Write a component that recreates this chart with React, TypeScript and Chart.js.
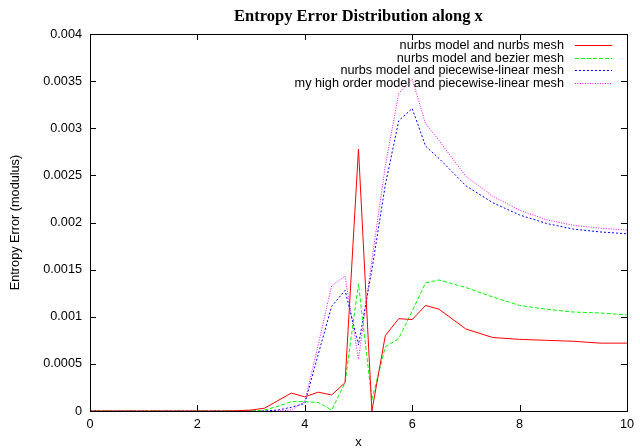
import { useEffect, useRef } from "react";
import { Chart, registerables } from "chart.js";

Chart.register(...registerables);

const chartTitle = "Entropy Error Distribution along x";
const xAxisTitle = "x";
const yAxisTitle = "Entropy Error (modulus)";

const xValues = [0, 0.5, 1, 1.5, 2, 2.5, 2.75, 3, 3.25, 3.5, 3.75, 4, 4.25, 4.5, 4.75, 5, 5.25, 5.5, 5.75, 6, 6.25, 6.5, 7, 7.5, 8, 8.5, 9, 9.5, 10];

const nurbsNurbs = [0, 0, 0, 0, 0, 0, 0.000003, 0.00001, 0.00003, 0.00011, 0.00019, 0.00015, 0.0002, 0.00017, 0.0003, 0.00278, 0, 0.0008, 0.00098, 0.00097, 0.00112, 0.00108, 0.00087, 0.00078, 0.00076, 0.00075, 0.00074, 0.00072, 0.00072];
const nurbsBezier = [0, 0, 0, 0, 0, 0, 0, 0, 0.00001, 0.00005, 0.0001, 0.0001, 0.00009, 0.00001, 0.0003, 0.00135, 0.00012, 0.00068, 0.00077, 0.00106, 0.00136, 0.00139, 0.00131, 0.00121, 0.00112, 0.00108, 0.00105, 0.00104, 0.00102];
const nurbsLinear = [0, 0, 0, 0, 0, 0, 0, 0, 0, 0.00001, 0.00004, 0.00008, 0.0006, 0.00111, 0.00128, 0.0007, 0.0015, 0.0024, 0.00308, 0.00321, 0.00281, 0.00268, 0.00239, 0.00221, 0.00208, 0.00199, 0.00193, 0.0019, 0.00188];
const highOrderLinear = [0, 0, 0, 0, 0, 0, 0, 0, 0, 0, 0.00001, 0.0001, 0.0007, 0.00133, 0.00143, 0.00055, 0.0016, 0.0026, 0.00337, 0.00352, 0.00305, 0.00287, 0.00249, 0.00228, 0.00213, 0.00203, 0.00197, 0.00194, 0.00192];

const seriesLabels = [
  "nurbs model and nurbs mesh",
  "nurbs model and bezier mesh",
  "nurbs model and piecewise-linear mesh",
  "my high order model and piecewise-linear mesh",
];

const xTicks = [0, 2, 4, 6, 8, 10];
const yTicks = [0, 0.0005, 0.001, 0.0015, 0.002, 0.0025, 0.003, 0.0035, 0.004];

const FONT = '"Liberation Sans", Arial, sans-serif';
const FS = 12.7;

const gnuplotPlugin = {
  id: "gnuplotFrame",
  afterDraw(chart: any) {
    const { ctx, chartArea } = chart;
    const { left, right, top, bottom } = chartArea;
    const xs = chart.scales.x;
    const ys = chart.scales.y;
    ctx.save();
    ctx.strokeStyle = "#000";
    ctx.lineWidth = 1;
    ctx.setLineDash([]);
    ctx.beginPath();
    for (const t of xTicks) {
      const px = Math.round(xs.getPixelForValue(t)) + 0.5;
      ctx.moveTo(px, bottom);
      ctx.lineTo(px, bottom - 6);
      ctx.moveTo(px, top);
      ctx.lineTo(px, top + 6);
    }
    for (const t of yTicks) {
      const py = Math.round(ys.getPixelForValue(t)) + 0.5;
      ctx.moveTo(left, py);
      ctx.lineTo(left + 6, py);
      ctx.moveTo(right, py);
      ctx.lineTo(right - 6, py);
    }
    ctx.stroke();
    ctx.strokeRect(Math.round(left) + 0.5, Math.round(top) + 0.5, Math.round(right - left), Math.round(bottom - top));

    // title
    ctx.fillStyle = "#000";
    ctx.font = 'bold 16.5px "Liberation Serif", "Times New Roman", serif';
    ctx.textAlign = "center";
    ctx.textBaseline = "alphabetic";
    ctx.fillText(chartTitle, (left + right) / 2, 21);

    // legend
    ctx.font = FS + "px " + FONT;
    ctx.textAlign = "right";
    ctx.textBaseline = "middle";
    chart.data.datasets.forEach((ds: any, i: number) => {
      const yy = Math.round(top + 11 + i * 12.7) + 0.5;
      ctx.fillStyle = "#000";
      ctx.fillText(ds.label, right - 63, yy);
      ctx.strokeStyle = ds.borderColor;
      ctx.lineWidth = 1;
      ctx.setLineDash(ds.borderDash || []);
      ctx.beginPath();
      ctx.moveTo(right - 52, yy);
      ctx.lineTo(right - 15, yy);
      ctx.stroke();
    });
    ctx.restore();
  },
};

export default function App() {
  const canvasRef = useRef<HTMLCanvasElement | null>(null);

  useEffect(() => {
    if (!canvasRef.current) return;
    const mk = (label: string, data: number[], color: string, dash: number[]) => ({
      label,
      data: xValues.map((x, i) => ({ x, y: data[i] })),
      borderColor: color,
      backgroundColor: color,
      borderWidth: 1,
      borderDash: dash,
      pointRadius: 0,
      tension: 0,
      fill: false,
    });
    const chart = new Chart(canvasRef.current, {
      type: "line",
      data: {
        datasets: [
          mk(seriesLabels[0], nurbsNurbs, "#ff0000", []),
          mk(seriesLabels[1], nurbsBezier, "#00ff00", [4, 2]),
          mk(seriesLabels[2], nurbsLinear, "#0000ff", [2, 2]),
          mk(seriesLabels[3], highOrderLinear, "#ff00ff", [1, 1.5]),
        ],
      },
      options: {
        animation: false,
        responsive: false,
        devicePixelRatio: 1,
        layout: { padding: { top: 34, right: 10, left: 0, bottom: 0 } },
        plugins: {
          legend: { display: false },
          title: { display: false },
          tooltip: { enabled: false },
        },
        scales: {
          x: {
            type: "linear",
            min: 0,
            max: 10,
            grid: { display: false, drawTicks: false },
            border: { display: false },
            ticks: {
              stepSize: 2,
              padding: 6,
              color: "#000",
              font: { family: FONT, size: FS },
              maxRotation: 0,
            },
            title: {
              display: true,
              text: xAxisTitle,
              color: "#000",
              font: { family: FONT, size: FS },
              padding: { top: 0, bottom: -2 },
            },
            afterFit: (s: any) => {
              s.height = 37;
            },
          },
          y: {
            type: "linear",
            min: 0,
            max: 0.004,
            grid: { display: false, drawTicks: false },
            border: { display: false },
            ticks: {
              stepSize: 0.0005,
              padding: 8,
              color: "#000",
              font: { family: FONT, size: FS },
              callback: (v: any) => String(+Number(v).toFixed(4)),
            },
            title: {
              display: true,
              text: yAxisTitle,
              color: "#000",
              font: { family: FONT, size: FS },
              padding: { top: 8, bottom: 0 },
            },
            afterFit: (s: any) => {
              s.width = 90;
            },
          },
        },
      },
      plugins: [gnuplotPlugin],
    });
    return () => chart.destroy();
  }, []);

  return (
    <div style={{ position: "absolute", left: 0, top: 0, width: 640, height: 448, background: "#fff" }}>
      <canvas ref={canvasRef} width={640} height={448} style={{ width: 640, height: 448 }} />
    </div>
  );
}
